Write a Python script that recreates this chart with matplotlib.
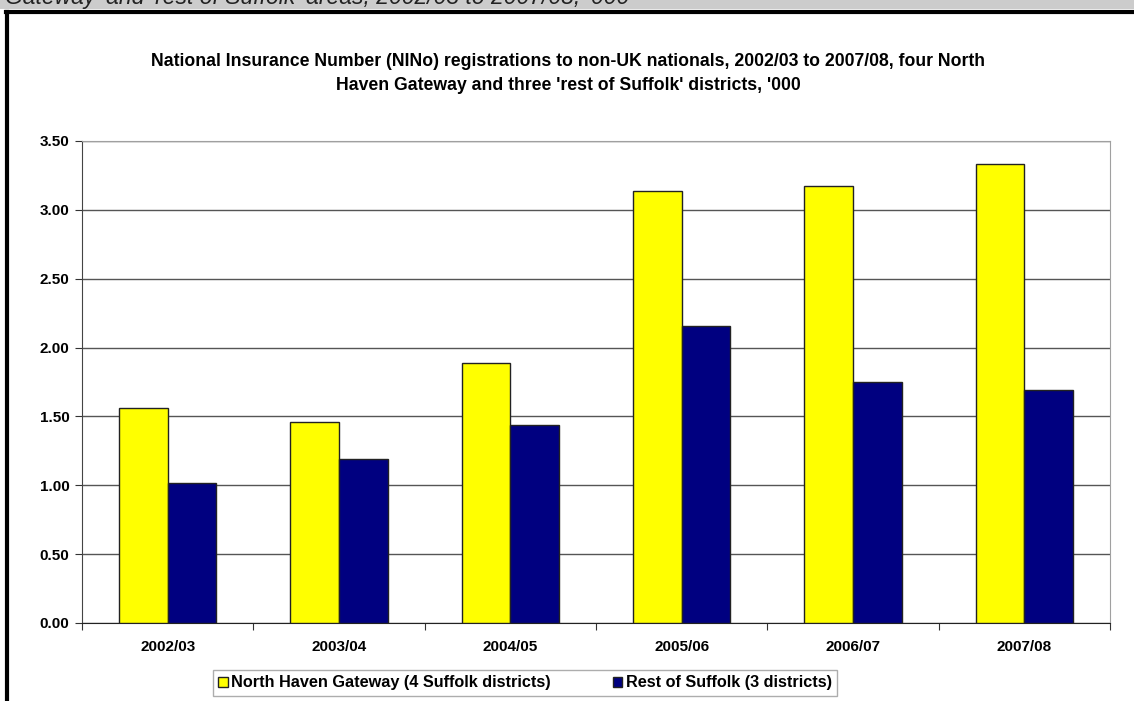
import matplotlib
matplotlib.use('Agg')
import matplotlib.pyplot as plt
from matplotlib.patches import Rectangle
from matplotlib.lines import Line2D
import numpy as np

plt.rcParams['font.family'] = ['Liberation Sans', 'DejaVu Sans']

years = ['2002/03', '2003/04', '2004/05', '2005/06', '2006/07', '2007/08']
north_haven = [1.56, 1.46, 1.89, 3.14, 3.17, 3.33]
rest_suffolk = [1.02, 1.19, 1.44, 2.16, 1.75, 1.69]
series_names = ['North Haven Gateway (4 Suffolk districts)', 'Rest of Suffolk (3 districts)']

W, H = 1134, 701
fig = plt.figure(figsize=(W / 100, H / 100), dpi=100)

# grey caption strip at the top, mostly cut off
fig.patches.append(Rectangle((0, 1 - 9 / H), 1, 9 / H, transform=fig.transFigure,
                             facecolor='#cccccc', edgecolor='none', zorder=0))
fig.text(5 / W, 1 - 4 / H, "Gateway' and 'rest of Suffolk' areas, 2002/03 to 2007/08, '000",
         fontsize=16.5, style='italic', color='#222222', va='baseline', ha='left')
# black chart frame (left and top only visible)
fig.add_artist(Line2D([7 / W, 7 / W], [0, 1 - 11.5 / H], transform=fig.transFigure,
                      color='black', lw=3))
fig.add_artist(Line2D([5.5 / W, 1], [1 - 11.5 / H, 1 - 11.5 / H], transform=fig.transFigure,
                      color='black', lw=3))

ax = fig.add_axes([82 / W, 78 / H, 1028 / W, 482 / H])
x = np.arange(len(years))
bw = 0.285
ax.bar(x - bw / 2, north_haven, bw, color='#ffff00', edgecolor='#222222', lw=1,
       label=series_names[0], zorder=3)
ax.bar(x + bw / 2, rest_suffolk, bw, color='#000080', edgecolor='#222222', lw=1,
       label=series_names[1], zorder=3)

ax.set_xlim(-0.5, len(years) - 0.5)
ax.set_ylim(0, 3.5)
ticks = np.arange(0, 3.51, 0.5)
ax.set_yticks(ticks)
ax.set_yticklabels(['%.2f' % v for v in ticks], fontsize=11, fontweight='bold')
ax.yaxis.grid(True, color='#555555', lw=1, zorder=0)
ax.set_axisbelow(True)

ax.set_xticks(np.arange(-0.5, len(years), 1))
ax.set_xticklabels([])
ax.set_xticks(x, minor=True)
ax.set_xticklabels(years, minor=True, fontsize=11, fontweight='bold')
ax.tick_params(axis='x', which='minor', length=0, pad=12)
ax.tick_params(axis='x', which='major', length=5, color='#333333')
ax.tick_params(axis='y', length=5, color='#333333', pad=4)

ax.spines['top'].set_color('#a0a0a0')
ax.spines['right'].set_color('#a0a0a0')
ax.spines['left'].set_color('#444444')
ax.spines['bottom'].set_color('#222222')

fig.text(568 / W, 1 - 62 / H,
         "National Insurance Number (NINo) registrations to non-UK nationals, 2002/03 to 2007/08, four North",
         ha='center', va='center', fontsize=12.7, fontweight='bold')
fig.text(568 / W, 1 - 85 / H,
         "Haven Gateway and three 'rest of Suffolk' districts, '000",
         ha='center', va='center', fontsize=12.7, fontweight='bold')

leg = fig.legend(loc='center', bbox_to_anchor=(525 / W, 1 - 683 / H), ncol=2,
                 prop={'size': 11.7, 'weight': 'bold'}, frameon=True, fancybox=False,
                 edgecolor='#999999', handlelength=0.6, handleheight=0.6,
                 handletextpad=0.2, columnspacing=3.8, borderpad=0.35)
leg.get_frame().set_linewidth(1)

fig.savefig('out.png', dpi=100)
